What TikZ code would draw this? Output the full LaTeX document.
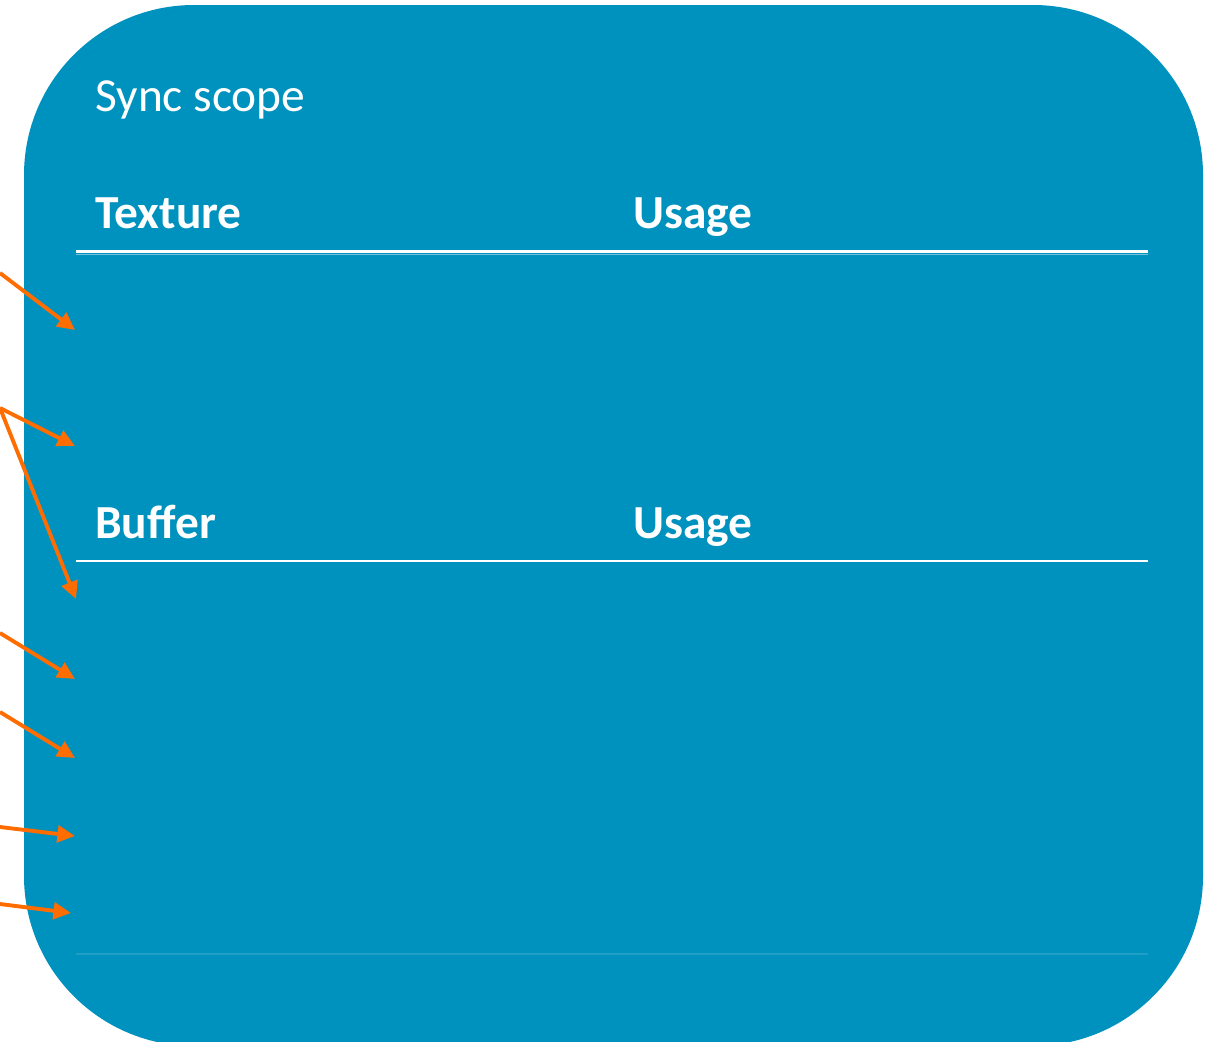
\documentclass[tikz,border=0pt]{standalone}
\usepackage{fontspec}
\setmainfont{Carlito}
\usetikzlibrary{arrows.meta}
\definecolor{scopeblue}{RGB}{0,146,190}
\definecolor{arroworange}{RGB}{255,108,0}
\tikzset{
  heading/.style={anchor=base west,inner sep=0pt,text=white,font=\fontsize{27}{32}\selectfont\bfseries},
  title/.style={anchor=base west,inner sep=0pt,text=white,font=\fontsize{27}{32}\selectfont},
  pointer/.style={draw=arroworange,line width=2.2pt,-{Triangle[length=10pt,width=9.5pt]}}
}
\begin{document}
\begin{tikzpicture}[x=0.02cm,y=-0.02cm]
      \clip (0,0) rectangle (1212,1041);
      \fill[scopeblue,rounded corners=3.4cm] (24,5) rectangle (1203,1046);
      \draw
        (95,111) node[title] (sync){Sync scope}
        (95,228) node[heading] (texture){Texture}
        (633,228) node[heading] (usage1){Usage}
        (95,538) node[heading] (buffer){Buffer}
        (633,538) node[heading] (usage2){Usage};
      % rules under the headings
      \draw[white,line width=1.2pt] (76,251.5) -- (1148,251.5);
      \draw[white!45!scopeblue,line width=0.7pt] (76,254.5) -- (1148,254.5);
      \draw[white,line width=0.9pt] (76,561) -- (1148,561);
      \draw[white!12!scopeblue,line width=0.7pt] (76,954) -- (1148,954);
      % free ends
      \coordinate (s1) at (0,273);
      \coordinate (s2) at (0,408);
      \coordinate (s3) at (0,633);
      \coordinate (s4) at (0,712);
      \coordinate (s5) at (0,827);
      \coordinate (s6) at (0,904);
      \coordinate (t1) at (75,330);
      \coordinate (t2) at (75,446);
      \coordinate (t3) at (76,599);
      \coordinate (t4) at (75,679);
      \coordinate (t5) at (75,758);
      \coordinate (t6) at (75,836);
      \coordinate (t7) at (71,913);
      \begin{scope}[pointer]
        \draw (s1) to (t1);
        \draw (s2) to (t2);
        \draw (s2) to (t3);
        \draw (s3) to (t4);
        \draw (s4) to (t5);
        \draw (s5) to (t6);
        \draw (s6) to (t7);
      \end{scope}
    \end{tikzpicture}
\end{document}
